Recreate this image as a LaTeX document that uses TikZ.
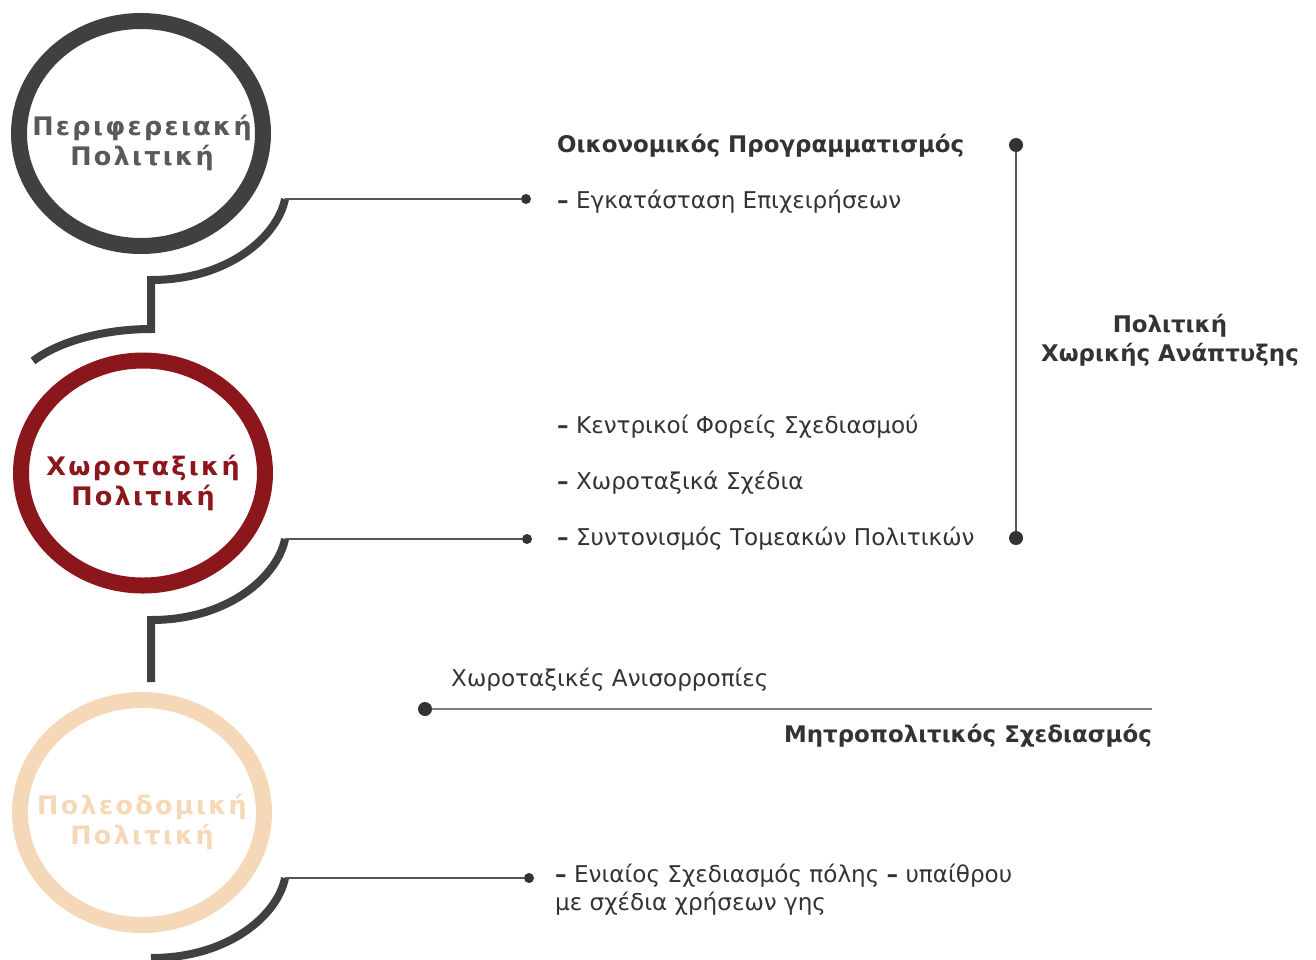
\documentclass[tikz,border=0pt]{standalone}
\usepackage{fontspec}
\setmainfont{DejaVu Sans}
\newfontfamily\circfont[LetterSpace=9]{DejaVu Sans}
\usetikzlibrary{shapes.geometric}
\definecolor{ringgray}{HTML}{404040}
\definecolor{ringred}{HTML}{8B171C}
\definecolor{ringpeach}{HTML}{F5D8B8}
\definecolor{txtgray}{HTML}{595959}
\definecolor{txtdark}{HTML}{333333}
\definecolor{linegray}{HTML}{555555}
\definecolor{lightline}{HTML}{808080}
\definecolor{dotdark}{HTML}{333333}
\newcommand{\bdash}{{\bfseries –}}
\begin{document}
\begin{tikzpicture}[x=1pt,y=-1pt,
  ring/.style={draw, ellipse, line width=16pt, minimum width=244pt, minimum height=225pt, inner sep=0pt},
  ctext/.style={align=center, inner sep=0pt, font=\circfont\fontsize{25.5}{30}\selectfont\bfseries},
  conn/.style={draw=ringgray, line width=8pt, line join=miter},
  thinline/.style={draw=linegray, line width=1.3pt},
  smalldot/.style={circle, fill=dotdark, inner sep=0pt, minimum size=10pt},
  bigdot/.style={circle, fill=dotdark, inner sep=0pt, minimum size=14pt},
  lbl/.style={anchor=base west, inner sep=0pt, text=txtdark, font=\fontsize{23.1}{28}\selectfont},
  lblb/.style={anchor=base west, inner sep=0pt, text=txtdark, font=\fontsize{22.9}{29}\selectfont\bfseries},
]
\useasboundingbox (0,0) rectangle (1316,959);

% rings
\node[ring, draw=ringgray] (c1) at (141,133.5) {};
\node[ring, draw=ringred] (c2) at (143,473) {};
\node[ring, draw=ringpeach] (c3) at (142,812.5) {};
\node[ctext, text=txtgray] (c1t) at (142,143) {Περιφερειακή\\Πολιτική};
\node[ctext, text=ringred] (c2t) at (143,482.5) {Χωροταξική\\Πολιτική};
\node[ctext, text=ringpeach] (c3t) at (142,821.5) {Πολεοδομική\\Πολιτική};

% connector points
\coordinate (s1) at (285,199);
\coordinate (b1) at (151,280);
\coordinate (k1) at (151,329);
\coordinate (e1) at (33,361);
\coordinate (s2) at (285,539);
\coordinate (b2) at (151,620);
\coordinate (k2) at (151,682);
\coordinate (s3) at (285,878);
\coordinate (b3) at (151,958);

\draw[conn] (s1) .. controls (278,235) and (230,280) .. (b1) -- (k1)
  .. controls (110,329) and (62,339) .. (e1);
\draw[conn] (s2) .. controls (278,575) and (230,620) .. (b2) -- (k2);
\draw[conn] (s3) .. controls (278,914) and (230,958) .. (b3);

% thin leader lines with dots
\node[smalldot] (d1) at (526,199) {};
\node[smalldot] (d2) at (527,539) {};
\node[smalldot] (d3) at (529,878) {};
\draw[thinline] (s1) -- (d1);
\draw[thinline] (s2) -- (d2);
\draw[thinline] (s3) -- (d3);

% bracket
\node[bigdot] (t1) at (1016,145) {};
\node[bigdot] (t2) at (1016,538) {};
\draw[thinline] (t1) -- (t2);

% metropolitan line
\node[bigdot] (m1) at (425,709) {};
\coordinate (m2) at (1152,709);
\draw[draw=lightline, line width=1.3pt] (m1) -- (m2);

% labels
\node[lblb] (h1) at (557,152.5) {Οικονομικός Προγραμματισμός};
\node[lbl] (i1) at (557,208.5) {\bdash{} Εγκατάσταση Επιχειρήσεων};
\node[lbl] (i2) at (557,433.5) {\bdash{} Κεντρικοί Φορείς Σχεδιασμού};
\node[lbl] (i3) at (557,489.5) {\bdash{} Χωροταξικά Σχέδια};
\node[lbl] (i4) at (557,545.5) {\bdash{} Συντονισμός Τομεακών Πολιτικών};
\node[lblb, anchor=center, align=center] (pol) at (1170,340) {Πολιτική\\Χωρικής Ανάπτυξης};
\node[lbl] (an) at (451,686.5) {Χωροταξικές Ανισορροπίες};
\node[lblb, anchor=base east] (ms) at (1152,742.5) {Μητροπολιτικός Σχεδιασμός};
\node[lbl, anchor=west, align=left] (en) at (555,890) {\bdash{} Ενιαίος Σχεδιασμός πόλης \bdash{} υπαίθρου\\με σχέδια χρήσεων γης};
\end{tikzpicture}
\end{document}
